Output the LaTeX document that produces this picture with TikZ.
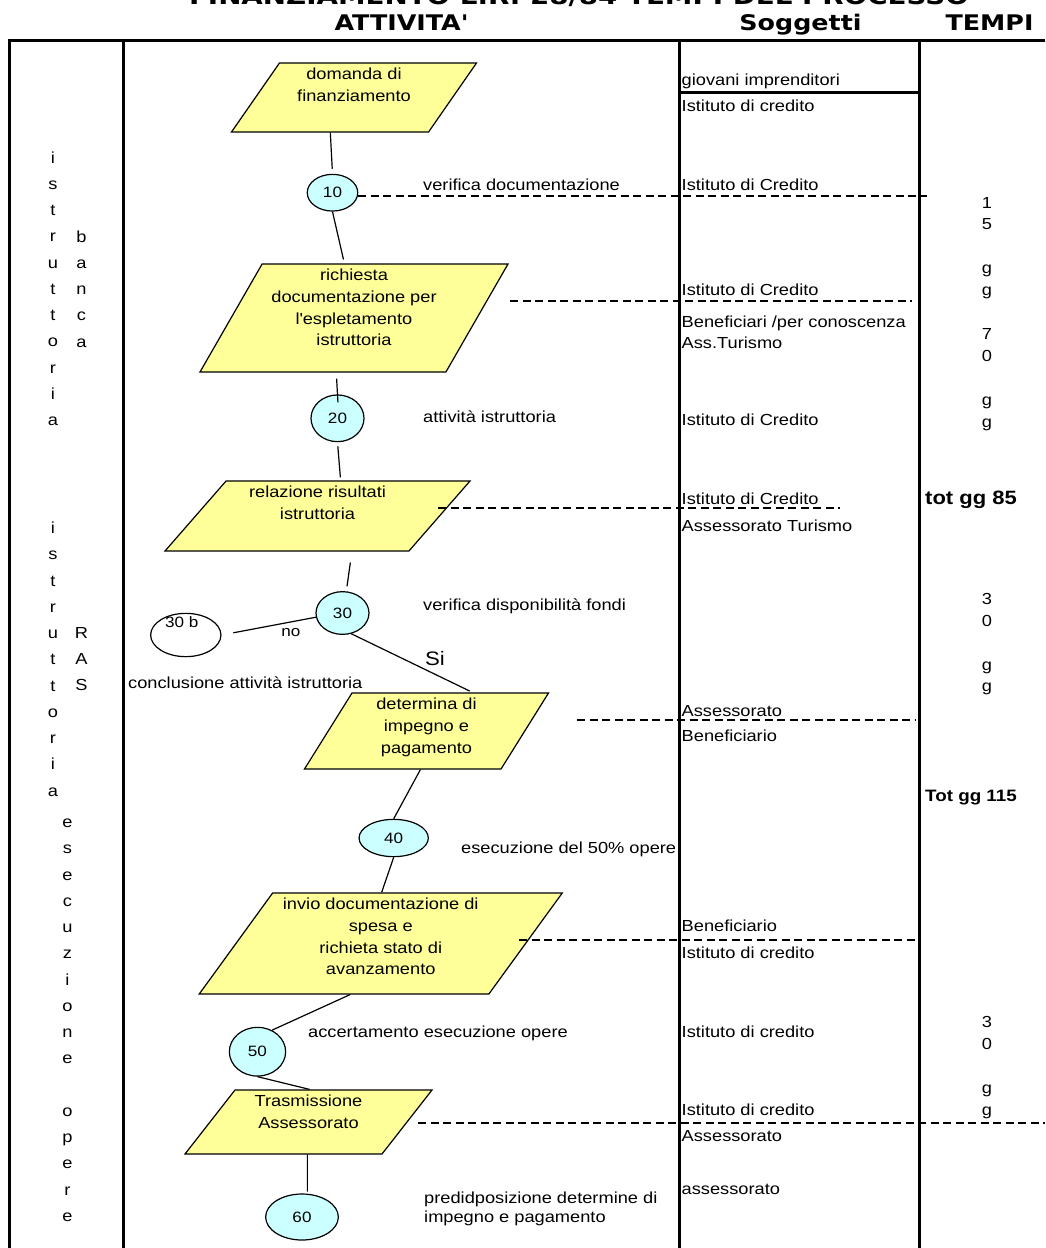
\documentclass[tikz,border=0pt]{standalone}
\usepackage{fontspec}
\setmainfont{Liberation Sans}[FakeStretch=1.14]
\newfontfamily\headfont{DejaVu Sans}[FakeStretch=1.18]
\usepackage{tikz}
\usetikzlibrary{shapes.geometric}

\definecolor{docyellow}{HTML}{FFFF99}
\definecolor{stepcyan}{HTML}{CCFFFF}
\newcommand{\bodyfont}{\fontsize{16}{21.7}\selectfont}
\newcommand{\stackfont}{\fontsize{16}{26.25}\selectfont}
\newcommand{\daysfont}{\fontsize{16}{21.95}\selectfont}
\newcommand{\numfont}{\fontsize{15}{18}\selectfont}
\newcommand{\headerfont}{\headfont\bfseries\fontsize{21.5}{26}\selectfont}

\begin{document}
\begin{tikzpicture}[
    x=1pt, y=-1pt,
    docbox/.style 2 args={trapezium, trapezium stretches body, draw,
        fill=docyellow, line width=1.2pt, inner xsep=0pt,
        trapezium left angle=#1, trapezium right angle=#2},
    doctext/.style={shape=rectangle, anchor=north, align=center,
        font=\bodyfont, inner xsep=0pt, inner ysep=5.5pt},
    stepnode/.style={ellipse, draw, fill=stepcyan, line width=1.2pt,
        inner sep=0pt, font=\numfont},
    txt/.style={anchor=base west, inner sep=0pt, font=\bodyfont},
    lane/.style={anchor=north, align=center, inner sep=0pt, font=\stackfont},
    days/.style={anchor=north, align=center, inner sep=0pt, font=\daysfont},
    divider/.style={line width=2pt, dash pattern=on 8pt off 4.5pt},
    gridline/.style={line width=3pt},
    link/.style={line width=1.2pt}
  ]
  \useasboundingbox (0,0) rectangle (1045,1248);

  % heading
  \node[font=\headfont\bfseries\fontsize{23.5}{28}\selectfont, anchor=base]
    (title) at (579,4) {FINANZIAMENTO L.R. 28/84 TEMPI DEL PROCESSO};
  \node[font=\headerfont, anchor=base] (headatt) at (401,30.7) {ATTIVITA\textquotesingle};
  \node[font=\headerfont, anchor=base] (headsog) at (800.5,30.7) {Soggetti};
  \node[font=\headerfont, anchor=base] (headtem) at (989.5,30.7) {TEMPI};

  % table
  \draw[gridline] (1045,40) -- (9,40) -- (9,1248);
  \draw[gridline] (123.5,40) -- (123.5,1248);
  \draw[gridline] (679.5,40) -- (679.5,1248);
  \draw[gridline] (919,40) -- (919,1248);
  \draw[gridline] (679.5,92) -- (919,92);

  % phases
  \node[lane] (lane1) at (53,151.2) {i\\s\\t\\r\\u\\t\\t\\o\\r\\i\\a};
  \node[lane] (lane1b) at (81.5,230.2) {b\\a\\n\\c\\a};
  \node[lane] (lane2) at (53,521.8) {i\\s\\t\\r\\u\\t\\t\\o\\r\\i\\a};
  \node[lane] (lane2b) at (81.5,626.8) {R\\A\\S};
  \node[lane] (lane3) at (67.5,818.7)
    {e\\s\\e\\c\\u\\z\\i\\o\\n\\e\\\mbox{}\\o\\p\\e\\r\\e};

  % documents
  \node[docbox={55.2}{124.8}, inner ysep=34.5, minimum width=245,
        label={[doctext]90:{domanda di\\finanziamento}}] (domanda) at (354,97.5) {};
  \node[docbox={60.1}{119.9}, inner ysep=54, minimum width=308,
        label={[doctext]90:{richiesta\\documentazione per\\l\textquotesingle espletamento\\istruttoria}}]
        (richiesta) at (354,318) {};
  \node[docbox={48.9}{131.1}, inner ysep=35, minimum width=305,
        label={[doctext]90:{relazione risultati\\istruttoria}}] (relazione) at (317.5,516) {};
  \node[docbox={58}{122}, inner ysep=38, minimum width=244,
        label={[doctext]90:{determina di\\impegno e\\pagamento}}] (determina) at (426.5,731) {};
  \node[docbox={54}{126}, inner ysep=50.5, minimum width=363,
        label={[doctext]90:{invio documentazione di\\spesa e\\richieta stato di\\avanzamento}}]
        (invio) at (380.75,943.5) {};
  \node[docbox={52}{128}, inner ysep=32, minimum width=247,
        label={[doctext]90:{Trasmissione\\Assessorato}}] (trasm) at (308.5,1122) {};

  % steps
  \node[stepnode, minimum width=50.5, minimum height=36.7] (st10) at (332.5,192.7) {10};
  \node[stepnode, minimum width=53, minimum height=46.7] (st20) at (337.5,418.3) {20};
  \node[stepnode, minimum width=53, minimum height=42.7] (st30) at (342.5,613) {30};
  \node[stepnode, fill=white, minimum width=70.3, minimum height=43.3,
        label={[font=\numfont, anchor=center, xshift=-4pt, yshift=12.7pt]center:30 b}]
        (st30b) at (185.8,635) {};
  \node[stepnode, minimum width=69.3, minimum height=37.3] (st40) at (393.7,838) {40};
  \node[stepnode, minimum width=56.3, minimum height=48.7] (st50) at (257.5,1051.7) {50};
  \node[stepnode, minimum width=72.7, minimum height=46] (st60) at (302,1217) {60};

  \draw[link, shorten >=5pt] (domanda.236) -- (st10.north);
  \draw[link, shorten >=4pt] (st10.south) -- (richiesta.100);
  \draw[link, shorten <=6pt, shorten >=-8pt] (richiesta.252) -- (st20.north);
  \draw[link, shorten <=4pt, shorten >=3pt] (st20.south) -- (relazione.57);
  \draw[link, shorten <=11pt, shorten >=5pt] (relazione.-46) -- (st30.80);
  \draw[link, shorten >=12pt] (st30.189) --
    node[pos=0.265, below, inner sep=6pt, font=\numfont] (no) {no} (st30b.east);
  \draw[link, shorten >=3pt] (st30.-67) --
    node[pos=0.69, above=5pt, font=\fontsize{19.5}{22}\selectfont] (si) {Si} (determina.40);
  \draw[link] (determina.261) -- (st40.north);
  \draw[link] (st40.south) -- (invio.89);
  \draw[link] (invio.239) -- (st50.56);
  \draw[link] (st50.south) -- (trasm.88);
  \draw[link, shorten >=2pt] (trasm.268) -- (st60.77);

  \draw[divider] (358,196) -- (927,196);
  \draw[divider] (510,300.7) -- (912,300.7);
  \draw[divider] (438,508.3) -- (840,508.3);
  \draw[divider] (577,719.7) -- (916,719.7);
  \draw[divider] (519,940) -- (919,940);
  \draw[divider] (418,1122.7) -- (1045,1122.7);

  % activities
  \node[txt] (act10) at (423,190.7) {verifica documentazione};
  \node[txt] (act20) at (423,422.7) {attività istruttoria};
  \node[txt] (act30) at (423,610.7) {verifica disponibilità fondi};
  \node[txt] (act30b) at (128,688.3) {conclusione attività istruttoria};
  \node[txt] (act40) at (461,853.3) {esecuzione del 50\% opere};
  \node[txt] (act50) at (308,1037.7) {accertamento esecuzione opere};
  \node[txt, anchor=north west, align=left, font=\fontsize{16}{18.5}\selectfont]
    (act60) at (424,1191.8) {predidposizione determine di\\impegno e pagamento};

  % subjects
  \node[txt] (sub1) at (681.5,85.7) {giovani imprenditori};
  \node[txt] (sub2) at (681.5,111.7) {Istituto di credito};
  \node[txt] (sub3) at (681.5,190.7) {Istituto di Credito};
  \node[txt] (sub4) at (681.5,295.7) {Istituto di Credito};
  \node[txt, anchor=north west, align=left, font=\fontsize{16}{21}\selectfont]
    (sub5) at (681.5,315.7) {Beneficiari /per conoscenza\\Ass.Turismo};
  \node[txt] (sub6) at (681.5,425.7) {Istituto di Credito};
  \node[txt] (sub7) at (681.5,504) {Istituto di Credito};
  \node[txt] (sub8) at (681.5,531.7) {Assessorato Turismo};
  \node[txt] (sub9) at (681.5,716) {Assessorato};
  \node[txt] (sub10) at (681.5,741.7) {Beneficiario};
  \node[txt] (sub11) at (681.5,931.7) {Beneficiario};
  \node[txt] (sub12) at (681.5,958.3) {Istituto di credito};
  \node[txt] (sub13) at (681.5,1037.7) {Istituto di credito};
  \node[txt] (sub14) at (681.5,1115) {Istituto di credito};
  \node[txt] (sub15) at (681.5,1141.7) {Assessorato};
  \node[txt] (sub16) at (681.5,1194) {assessorato};

  % times
  \node[days] (days1) at (987,196.8)
    {1\\5\\\mbox{}\\g\\g\\\mbox{}\\7\\0\\\mbox{}\\g\\g};
  \node[days] (days2) at (987,592.8) {3\\0\\\mbox{}\\g\\g};
  \node[days] (days3) at (987,1016.2) {3\\0\\\mbox{}\\g\\g};
  \node[txt, font=\bfseries\fontsize{19.3}{23}\selectfont] (tot1) at (925,504.3) {tot gg 85};
  \node[txt, font=\bfseries\fontsize{16.5}{20}\selectfont] (tot2) at (925,801) {Tot gg 115};
\end{tikzpicture}
\end{document}
